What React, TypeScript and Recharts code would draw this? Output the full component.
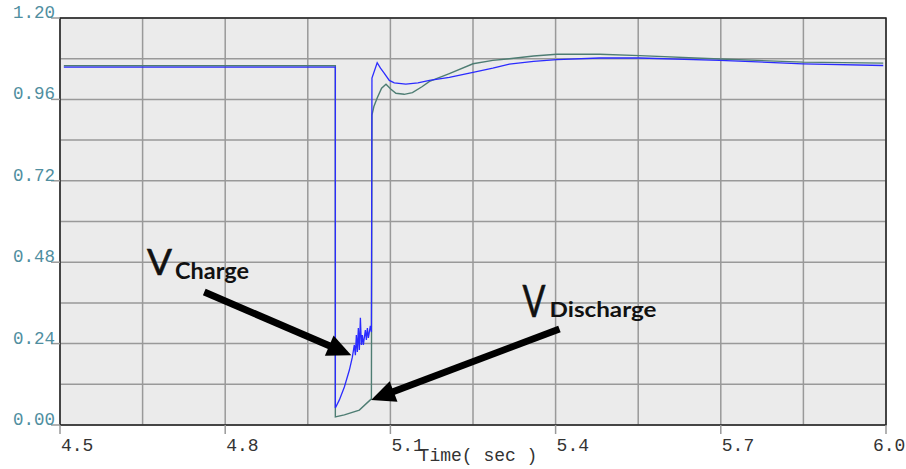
import React from 'react';
import {
  CartesianGrid,
  Line,
  LineChart,
  ReferenceArea,
  ReferenceDot,
  ReferenceLine,
  XAxis,
  YAxis,
  Label,
} from 'recharts';

// Grid / tick values
const xGridTicks = [4.5, 4.65, 4.8, 4.95, 5.1, 5.25, 5.4, 5.55, 5.7, 5.85, 6.0];
const xLabelTicks = [4.5, 4.8, 5.1, 5.4, 5.7, 6.0];
const yGridTicks = [0, 0.12, 0.24, 0.36, 0.48, 0.6, 0.72, 0.84, 0.96, 1.08, 1.2];
const yLabelTicks = [0, 0.24, 0.48, 0.72, 0.96, 1.2];

// V charge (blue trace)
const chargeTime = [
  4.507, 5.0, 5.0, 5.0073, 5.0164, 5.0255, 5.0309, 5.0345, 5.0364, 5.0382, 5.04,
  5.0418, 5.0436, 5.0455, 5.0473, 5.0491, 5.0509, 5.0545, 5.0564, 5.0582, 5.06,
  5.0636, 5.0655, 5.0665, 5.076, 5.082, 5.089, 5.098, 5.107, 5.128, 5.15, 5.171,
  5.207, 5.25, 5.286, 5.316, 5.36, 5.402, 5.48, 5.553, 5.698, 5.849, 5.995,
];
const chargeVolt = [
  1.055, 1.055, 0.05, 0.074, 0.112, 0.162, 0.2, 0.236, 0.206, 0.265, 0.215,
  0.286, 0.221, 0.316, 0.236, 0.265, 0.236, 0.28, 0.251, 0.286, 0.257,
  0.292, 0.274, 1.023, 1.068, 1.052, 1.037, 1.016, 1.009, 1.005, 1.009, 1.016,
  1.025, 1.04, 1.052, 1.064, 1.072, 1.077, 1.082, 1.082, 1.075, 1.065, 1.06,
];

// V discharge (grey-green trace)
const dischargeTime = [
  4.507, 5.0, 5.0, 5.0164, 5.0436, 5.0655, 5.0665, 5.07, 5.076, 5.084, 5.092,
  5.101, 5.11, 5.125, 5.14, 5.158, 5.171, 5.207, 5.25, 5.286, 5.316, 5.36,
  5.402, 5.48, 5.553, 5.698, 5.849, 5.995,
];
const dischargeVolt = [
  1.059, 1.059, 0.024, 0.03, 0.044, 0.077, 0.914, 0.939, 0.964, 0.993, 1.005,
  0.99, 0.978, 0.975, 0.98, 0.998, 1.013, 1.036, 1.065, 1.075, 1.08, 1.088,
  1.093, 1.093, 1.089, 1.079, 1.07, 1.067,
];

const chargeData = chargeTime.map((t, i) => ({ t, v: chargeVolt[i] }));
const dischargeData = dischargeTime.map((t, i) => ({ t, v: dischargeVolt[i] }));

const MONO = '"Liberation Mono", "DejaVu Sans Mono", monospace';
const isLabeled = (list: number[], v: number) => list.some(l => Math.abs(l - v) < 1e-6);

function YTick(props: any) {
  const { x, y, payload } = props;
  if (!isLabeled(yLabelTicks, payload.value)) return null;
  return (
    <g>
      <line x1={x - 9} y1={y} x2={x} y2={y} stroke="#999" strokeWidth={1.5} />
      <text x={x - 5} y={y} textAnchor="end" fontFamily={MONO} fontSize={17.5} fill="#4f8ea0">
        {payload.value.toFixed(2)}
      </text>
    </g>
  );
}

function XTick(props: any) {
  const { x, y, payload } = props;
  if (!isLabeled(xLabelTicks, payload.value)) return null;
  const last = Math.abs(payload.value - 6) < 1e-6;
  return (
    <g>
      <line x1={x} y1={y} x2={x} y2={y + 9} stroke="#999" strokeWidth={1.5} />
      <text x={last ? x - 13 : x + 1} y={y + 26} fontFamily={MONO} fontSize={18} fill="#333">
        {payload.value.toFixed(1)}
      </text>
    </g>
  );
}

// thick black arrow with a triangular head, tip at (x2, y2)
function Arrow(props: any) {
  const { x1, y1, x2, y2 } = props;
  const dx = x2 - x1;
  const dy = y2 - y1;
  const len = Math.hypot(dx, dy) || 1;
  const ux = dx / len;
  const uy = dy / len;
  const head = 24;
  const half = 11;
  const bx = x2 - ux * head;
  const by = y2 - uy * head;
  return (
    <g>
      <line x1={x1} y1={y1} x2={bx + ux * 2} y2={by + uy * 2} stroke="#000" strokeWidth={7} />
      <polygon
        points={`${x2},${y2} ${bx - uy * half},${by + ux * half} ${bx + uy * half},${by - ux * half}`}
        fill="#000"
      />
    </g>
  );
}

function ChargeText(props: any) {
  const { cx, cy } = props;
  return (
    <g fontFamily="Lato, 'Open Sans', sans-serif" fill="#111">
      <text x={cx} y={cy} fontSize={36} textLength={25} lengthAdjust="spacingAndGlyphs" stroke="#111" strokeWidth={0.6}>
        V
      </text>
      <text x={cx + 28} y={cy + 4} fontSize={22} fontWeight={700} textLength={74} lengthAdjust="spacingAndGlyphs">
        Charge
      </text>
    </g>
  );
}

function DischargeText(props: any) {
  const { cx, cy } = props;
  return (
    <g fontFamily="Lato, 'Open Sans', sans-serif" fill="#111">
      <text x={cx} y={cy} fontSize={44} textLength={23} lengthAdjust="spacingAndGlyphs" stroke="#111" strokeWidth={0.6}>
        V
      </text>
      <text x={cx + 27} y={cy} fontSize={21} fontWeight={700} textLength={107} lengthAdjust="spacingAndGlyphs">
        Discharge
      </text>
    </g>
  );
}

export default function App() {
  return (
    <div style={{ position: 'absolute', left: 0, top: 0, width: 906, height: 469, background: '#fff' }}>
      <LineChart width={906} height={469} margin={{ top: 18, right: 20, bottom: 0, left: 0 }}>
        <CartesianGrid fill="#ebebeb" stroke="#999" strokeWidth={1.5} />
        <XAxis
          dataKey="t"
          type="number"
          domain={[4.5, 6.0]}
          ticks={xGridTicks}
          interval={0}
          height={44}
          tickSize={0}
          tickMargin={0}
          tickLine={false}
          axisLine={false}
          tick={XTick}
        >
          <Label
            content={(p: any) => (
              <text
                x={p.viewBox.x + p.viewBox.width / 2 + 5}
                y={p.viewBox.y + 36}
                textAnchor="middle"
                fontFamily={MONO}
                fontSize={18}
                fill="#333"
              >
                Time( sec )
              </text>
            )}
          />
        </XAxis>
        <YAxis
          type="number"
          domain={[0, 1.2]}
          ticks={yGridTicks}
          interval={0}
          width={60}
          tickSize={0}
          tickMargin={0}
          tickLine={false}
          axisLine={false}
          tick={YTick}
        />
        <ReferenceArea x1={4.5} x2={6.0} y1={0} y2={1.2} fill="none" stroke="#222" strokeWidth={1.5} />
        <Line
          data={dischargeData}
          dataKey="v"
          type="linear"
          stroke="#4e7d73"
          strokeWidth={1.4}
          dot={false}
          isAnimationActive={false}
        />
        <Line
          data={chargeData}
          dataKey="v"
          type="linear"
          stroke="#2b2bff"
          strokeWidth={1.3}
          dot={false}
          isAnimationActive={false}
        />
        <ReferenceLine segment={[{ x: 4.762, y: 0.392 }, { x: 5.029, y: 0.206 }]} shape={Arrow} />
        <ReferenceLine segment={[{ x: 5.407, y: 0.283 }, { x: 5.065, y: 0.074 }]} shape={Arrow} />
        <ReferenceDot x={4.658} y={0.442} r={0} shape={ChargeText} />
        <ReferenceDot x={5.34} y={0.319} r={0} shape={DischargeText} />
      </LineChart>
    </div>
  );
}
